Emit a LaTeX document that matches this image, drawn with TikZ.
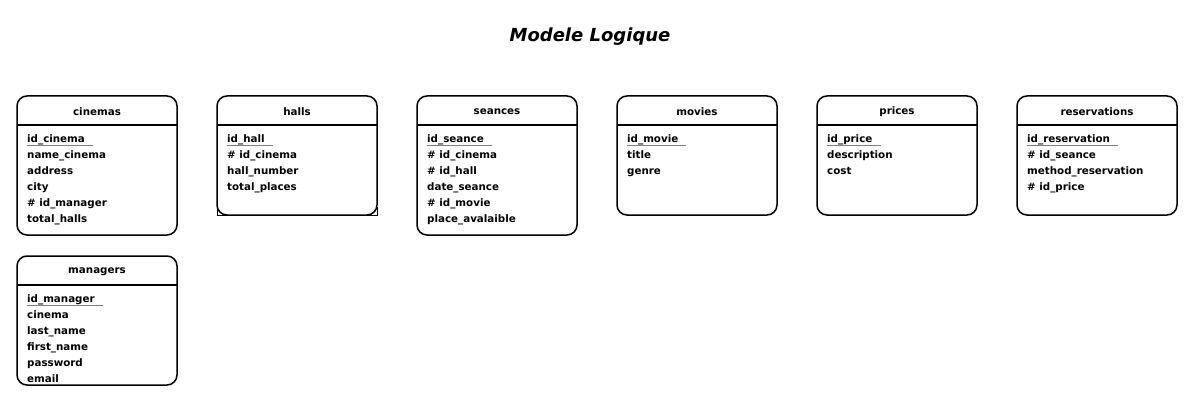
\documentclass[tikz,border=0pt]{standalone}
\usepackage{fontspec}
\setmainfont{DejaVu Sans}
\usetikzlibrary{calc}

\tikzset{
  tablebox/.style={line width=1.5pt, rounded corners=10pt},
  headline/.style={line width=1.5pt},
  tabletitle/.style={font=\bfseries\fontsize{10.3}{12}\selectfont, inner sep=0pt},
  rowtext/.style={font=\bfseries\fontsize{10.3}{12}\selectfont, anchor=west, inner sep=0pt, text height=7.5pt, text depth=2pt},
  keyline/.style={gray, line width=0.6pt}
}

% name, left, top, bottom, title, rows
\newcommand{\entity}[6]{%
  \draw[tablebox] (#2,#3) rectangle (#2+160,#4);
  \draw[headline] (#2,#3+29) -- (#2+160,#3+29);
  \node[tabletitle] (#1) at (#2+80,#3+16) {#5};
  \foreach \r [count=\i] in {#6} \node[rowtext] (#1-\i) at (#2+10,#3+28+16*\i) {\r};
  \draw[keyline] (#1-1.south west) -- ($(#1-1.south east)+(8,0)$);
}

\begin{document}
\begin{tikzpicture}[x=1pt,y=-1pt]
  \useasboundingbox (0,0) rectangle (1192,404);
  \node[font=\bfseries\itshape\fontsize{18}{20}\selectfont] (titre) at (590,37) {Modele Logique}; %titre
  \entity{cinemas}{17}{96}{235}{cinemas}{id\_cinema, name\_cinema, address, city, \# id\_manager, total\_halls}
  \entity{halls}{217}{96}{215}{halls}{id\_hall, \# id\_cinema, hall\_number, total\_places}
  \draw[thin] (217,207) -- (217,215) -- (377,215) -- (377,207); %coins
  \entity{seances}{417}{96}{235}{seances}{id\_seance, \# id\_cinema, \# id\_hall, date\_seance, \# id\_movie, place\_avalaible}
  \entity{movies}{617}{96}{215}{movies}{id\_movie, title, genre}
  \entity{prices}{817}{96}{215}{prices}{id\_price, description, cost}
  \entity{reservations}{1017}{96}{215}{reservations}{id\_reservation, \# id\_seance, method\_reservation, \# id\_price}
  \entity{managers}{17}{256}{385}{managers}{id\_manager, cinema, last\_name, first\_name, password, email}
\end{tikzpicture}
\end{document}
